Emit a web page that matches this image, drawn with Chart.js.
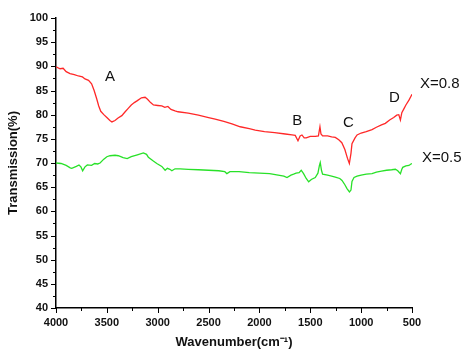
<!DOCTYPE html>
<html>
<head>
<meta charset="utf-8">
<script src="https://cdn.jsdelivr.net/npm/chart.js@4/dist/chart.umd.min.js"></script>
<style>
  html, body { margin: 0; padding: 0; background: #fff; }
  #wrap { width: 467px; height: 352px; }
</style>
</head>
<body>
<div id="wrap"><canvas id="ftir"></canvas></div>
<script>
// FTIR spectra, X=0.8 (red) and X=0.5 (green)
const redWavenumbers = [4000, 3960, 3930, 3900, 3862, 3820, 3780, 3740, 3715, 3680, 3650, 3625, 3600, 3580, 3560, 3530, 3500, 3470, 3450, 3420, 3390, 3353, 3320, 3290, 3260, 3230, 3200, 3160, 3124, 3100, 3070, 3042, 3000, 2960, 2930, 2900, 2870, 2830, 2800, 2700, 2600, 2500, 2435, 2350, 2270, 2189, 2100, 2041, 1950, 1850, 1746, 1680, 1648, 1621, 1600, 1582, 1560, 1540, 1500, 1450, 1420, 1405, 1395, 1379, 1330, 1290, 1254, 1220, 1190, 1160, 1135, 1116, 1100, 1090, 1060, 1040, 1000, 950, 893, 850, 800, 762, 720, 680, 650, 630, 614, 600, 580, 560, 530, 510, 500]
const redTransmission = [89.9, 89.5, 89.6, 88.9, 88.5, 88.3, 88.0, 87.8, 87.4, 87.1, 86.4, 85.0, 83.3, 81.8, 80.7, 80.0, 79.4, 78.8, 78.5, 78.8, 79.3, 79.8, 80.6, 81.3, 82.0, 82.5, 82.9, 83.5, 83.6, 83.2, 82.5, 82.0, 81.9, 81.8, 81.5, 81.7, 81.1, 80.8, 80.6, 80.3, 79.9, 79.4, 79.1, 78.6, 78.1, 77.5, 77.1, 76.8, 76.5, 76.3, 76.0, 75.8, 75.7, 74.6, 75.6, 75.8, 75.2, 75.2, 75.5, 75.5, 75.6, 77.5, 76.0, 75.6, 75.6, 75.4, 75.3, 74.8, 74.2, 72.8, 71.0, 69.9, 72.0, 74.0, 75.2, 75.8, 76.2, 76.5, 76.9, 77.4, 77.9, 78.2, 78.9, 79.4, 79.9, 80.0, 78.9, 80.4, 81.2, 82.0, 83.0, 83.8, 84.2]

const greenWavenumbers = [4000, 3950, 3900, 3860, 3845, 3800, 3774, 3755, 3738, 3715, 3692, 3650, 3620, 3590, 3567, 3530, 3500, 3469, 3420, 3387, 3340, 3300, 3260, 3200, 3141, 3110, 3092, 3050, 3009, 2960, 2927, 2905, 2880, 2861, 2830, 2780, 2700, 2600, 2500, 2400, 2340, 2320, 2290, 2200, 2100, 2000, 1900, 1844, 1760, 1729, 1690, 1664, 1640, 1610, 1589, 1566, 1540, 1516, 1490, 1451, 1425, 1410, 1402, 1390, 1379, 1330, 1290, 1254, 1210, 1188, 1160, 1139, 1115, 1100, 1090, 1070, 1040, 1000, 950, 893, 850, 800, 750, 700, 663, 640, 614, 600, 591, 560, 530, 510, 500]
const greenTransmission = [70.0, 69.9, 69.5, 69.0, 68.9, 69.3, 69.6, 69.2, 68.4, 69.2, 69.6, 69.5, 69.9, 69.8, 70.0, 70.8, 71.3, 71.5, 71.6, 71.5, 71.1, 70.9, 71.3, 71.7, 72.1, 71.8, 71.2, 70.5, 69.9, 69.3, 68.5, 68.9, 68.7, 68.4, 68.8, 68.8, 68.7, 68.6, 68.5, 68.4, 68.2, 67.8, 68.2, 68.2, 68.0, 67.9, 67.8, 67.6, 67.3, 67.0, 67.5, 67.7, 67.9, 68.0, 68.5, 67.8, 66.8, 66.1, 66.6, 67.0, 67.9, 69.5, 70.1, 68.5, 67.7, 67.5, 67.3, 67.1, 66.8, 66.4, 65.5, 64.7, 64.0, 64.4, 66.2, 67.0, 67.3, 67.5, 67.7, 67.8, 68.1, 68.3, 68.5, 68.6, 68.7, 68.4, 67.8, 68.7, 69.1, 69.4, 69.5, 69.8, 69.9]

const seriesLabels = ["X=0.8", "X=0.5"]
const peakLabels = ["A", "B", "C", "D"]
const peakWavenumbers = [3468, 1628, 1126, 673]
const peakTransmission = [87.8, 78.7, 78.3, 83.5]

const xTicks = [4000, 3500, 3000, 2500, 2000, 1500, 1000, 500]
const yTicks = [40, 45, 50, 55, 60, 65, 70, 75, 80, 85, 90, 95, 100]

const toPoints = (xs, ys) => xs.map((x, i) => ({ x, y: ys[i] }))

// minor + major tick marks drawn outside the axes, plus the peak / series labels
const decorations = {
  id: "decorations",
  afterDraw(chart) {
    const { ctx, scales: { x, y }, chartArea } = chart
    ctx.save()
    ctx.strokeStyle = "#000"
    ctx.lineWidth = 1

    for (let w = 500; w <= 4000; w += 250) {
      const px = Math.round(x.getPixelForValue(w)) + 0.5
      const len = w % 500 === 0 ? 5 : 3
      ctx.beginPath()
      ctx.moveTo(px, chartArea.bottom)
      ctx.lineTo(px, chartArea.bottom + len)
      ctx.stroke()
    }
    for (let v = 40; v <= 100; v += 2.5) {
      const py = Math.round(y.getPixelForValue(v)) + 0.5
      const len = v % 5 === 0 ? 5 : 3
      ctx.beginPath()
      ctx.moveTo(chartArea.left, py)
      ctx.lineTo(chartArea.left - len, py)
      ctx.stroke()
    }

    ctx.fillStyle = "#111"
    ctx.font = "15px 'Liberation Sans', Arial, sans-serif"
    ctx.textAlign = "center"
    ctx.textBaseline = "middle"
    peakLabels.forEach((label, i) => {
      ctx.fillText(label, x.getPixelForValue(peakWavenumbers[i]), y.getPixelForValue(peakTransmission[i]))
    })

    ctx.textAlign = "left"
    const lastRed = redTransmission[redTransmission.length - 1]
    const lastGreen = greenTransmission[greenTransmission.length - 1]
    ctx.fillText(seriesLabels[0], chartArea.right + 8, y.getPixelForValue(lastRed + 2.2))
    ctx.fillText(seriesLabels[1], chartArea.right + 10, y.getPixelForValue(lastGreen + 1.1))
    ctx.restore()
  }
}

const tickFont = { family: "'Liberation Sans', Arial, sans-serif", size: 11, weight: "bold" }
const titleFont = { family: "'Liberation Sans', Arial, sans-serif", size: 13, weight: "bold" }

new Chart(document.getElementById("ftir"), {
  type: "line",
  data: {
    datasets: [
      { label: seriesLabels[0], data: toPoints(redWavenumbers, redTransmission), borderColor: "rgb(255, 40, 40)", borderWidth: 1.3, pointRadius: 0, tension: 0 },
      { label: seriesLabels[1], data: toPoints(greenWavenumbers, greenTransmission), borderColor: "rgb(40, 225, 40)", borderWidth: 1.3, pointRadius: 0, tension: 0 }
    ]
  },
  options: {
    responsive: true,
    maintainAspectRatio: false,
    animation: false,
    layout: { padding: { top: 18, right: 55, bottom: 0, left: 0 } },
    plugins: { legend: { display: false }, tooltip: { enabled: false } },
    scales: {
      x: {
        type: "linear",
        reverse: true,
        min: 500,
        max: 4000,
        afterBuildTicks: (scale) => { scale.ticks = xTicks.map(value => ({ value })) },
        ticks: { font: tickFont, color: "#111", padding: 8, maxRotation: 0, callback: (value) => String(value) },
        grid: { display: false, drawTicks: false },
        border: { display: true, color: "#000", width: 1.5 },
        title: { display: true, text: "Wavenumber(cm⁻¹)", font: titleFont, color: "#111", padding: { top: 0, bottom: 2 } },
        afterFit: (scale) => { scale.height = 44 }
      },
      y: {
        min: 40,
        max: 100,
        afterBuildTicks: (scale) => { scale.ticks = yTicks.map(value => ({ value })) },
        ticks: { font: tickFont, color: "#111", padding: 8, callback: (value) => String(value) },
        grid: { display: false, drawTicks: false },
        border: { display: true, color: "#000", width: 1.5 },
        title: { display: true, text: "Transmission(%)", font: titleFont, color: "#111", padding: { top: 6, bottom: 0 } },
        afterFit: (scale) => { scale.width = 56 }
      }
    }
  },
  plugins: [ decorations ]
})
</script>
</body>
</html>
